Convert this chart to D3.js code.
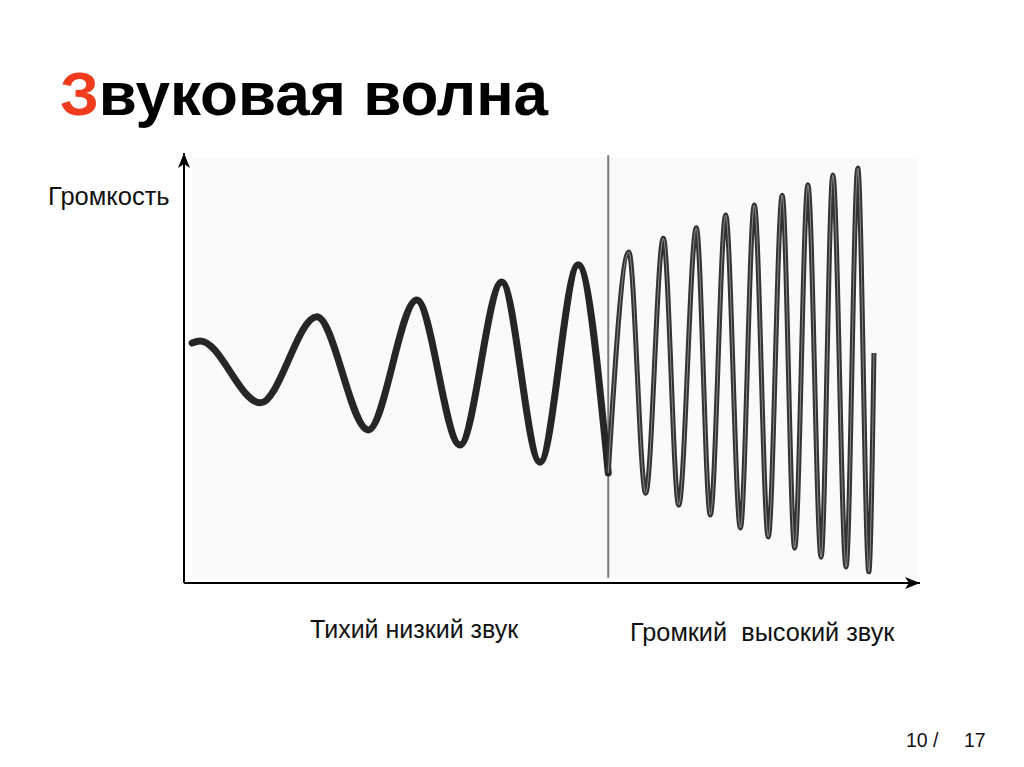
<!DOCTYPE html>
<html>
<head>
<meta charset="utf-8">
<script src="https://cdn.jsdelivr.net/npm/d3@7"></script>
<style>
  body { margin: 0; background: #fff; }
  text { font-family: "Liberation Sans", Arial, sans-serif; }
</style>
</head>
<body>
<div id="slide"></div>
<script>
var svgWidth = 1024;
var svgHeight = 767;

// time (arbitrary units 0-100) and level (0-100) of each turning point
var quietTime  = [1.1, 2.2, 10.4, 18.1, 25.1, 31.7, 37.6, 43.3, 48.5, 53.7, 57.8];
var quietLevel = [55.8, 56.3, 41.9, 61.9, 35.6, 65.8, 32.1, 70.0, 28.1, 74.0, 25.6];

var loudTime  = [57.8, 60.6, 62.9, 65.3, 67.4, 69.8, 71.7, 73.8, 75.8, 77.7, 79.6, 81.5, 83.2, 85.0, 86.8, 88.4, 90.2, 91.8, 93.3, 94.0];
var loudLevel = [25.6, 77.0, 20.9, 80.2, 18.1, 82.6, 15.8, 85.6, 12.8, 87.9, 10.7, 90.2, 8.1, 92.6, 6.0, 94.9, 3.7, 96.5, 2.6, 53.5];

var splitTime = 57.8;

var titleFirst = "З";
var titleRest = "вуковая волна";
var yLabel = "Громкость";
var leftLabel = "Тихий низкий звук";
var rightLabel = "Громкий  высокий звук";
var pageNum = "10 /";
var pageTotal = "17";

var quietData = quietTime.map((t, i) => ({ t: t, v: quietLevel[i] }));
var loudData = loudTime.map((t, i) => ({ t: t, v: loudLevel[i] }));

var svg = d3.select("#slide")
  .append("svg")
  .attr("width", svgWidth)
  .attr("height", svgHeight);

var xScale = d3.scaleLinear().domain([0, 100]).range([184, 918]);
var yScale = d3.scaleLinear().domain([0, 100]).range([583, 153]);

var defs = svg.append("defs");
defs.append("marker")
  .attr("id", "arrow")
  .attr("viewBox", "-16 -7 18 14")
  .attr("markerWidth", 18)
  .attr("markerHeight", 14)
  .attr("markerUnits", "userSpaceOnUse")
  .attr("refX", 0)
  .attr("refY", 0)
  .attr("orient", "auto")
  .append("path")
  .attr("d", "M0,0L-15,-6L-11,0L-15,6Z")
  .attr("fill", "#000");

// title
var title = svg.append("text")
  .attr("x", 60)
  .attr("y", 115)
  .attr("font-size", 62)
  .attr("font-weight", "bold");
title.append("tspan").attr("fill", "#f03c1c").text(titleFirst);
title.append("tspan").attr("fill", "#000").text(titleRest);

// faint plot background
svg.append("rect")
  .attr("x", xScale(1))
  .attr("y", yScale(99))
  .attr("width", xScale(100) - xScale(1))
  .attr("height", yScale(1) - yScale(99))
  .attr("fill", "#fafafa");

// axes
svg.append("line")
  .attr("x1", xScale(0)).attr("y1", yScale(0))
  .attr("x2", xScale(0)).attr("y2", yScale(100))
  .attr("stroke", "#000").attr("stroke-width", 2)
  .attr("marker-end", "url(#arrow)");

svg.append("line")
  .attr("x1", xScale(0)).attr("y1", yScale(0))
  .attr("x2", xScale(100) + 2).attr("y2", yScale(0))
  .attr("stroke", "#000").attr("stroke-width", 2)
  .attr("marker-end", "url(#arrow)");

// divider
svg.append("line")
  .attr("x1", xScale(splitTime)).attr("y1", yScale(99.5))
  .attr("x2", xScale(splitTime)).attr("y2", yScale(1.2))
  .attr("stroke", "#7a7a7a").attr("stroke-width", 2);

var line = d3.line()
  .x(d => xScale(d.t))
  .y(d => yScale(d.v))
  .curve(d3.curveMonotoneX);

svg.append("path")
  .datum(quietData)
  .attr("d", line)
  .attr("fill", "none")
  .attr("stroke", "#262626")
  .attr("stroke-width", 7)
  .attr("stroke-linecap", "round")
  .attr("stroke-linejoin", "round");

svg.append("path")
  .datum(loudData)
  .attr("d", line)
  .attr("fill", "none")
  .attr("stroke", "#333")
  .attr("stroke-width", 5)
  .attr("stroke-linejoin", "round");

svg.append("path")
  .datum(loudData)
  .attr("d", line)
  .attr("fill", "none")
  .attr("stroke", "#8a8a8a")
  .attr("stroke-width", 1);

// labels
svg.append("text")
  .attr("x", 48).attr("y", 205)
  .attr("font-size", 25.5)
  .attr("fill", "#111")
  .text(yLabel);

svg.append("text")
  .attr("x", 310).attr("y", 638)
  .attr("font-size", 25)
  .attr("fill", "#111")
  .text(leftLabel);

svg.append("text")
  .attr("x", 630).attr("y", 641)
  .attr("font-size", 25.3)
  .attr("fill", "#111")
  .attr("xml:space", "preserve")
  .style("white-space", "pre")
  .text(rightLabel);

svg.append("text")
  .attr("x", 906).attr("y", 747)
  .attr("font-size", 19.5)
  .attr("fill", "#111")
  .text(pageNum);

svg.append("text")
  .attr("x", 964).attr("y", 747)
  .attr("font-size", 19.5)
  .attr("fill", "#111")
  .text(pageTotal);
</script>
</body>
</html>
